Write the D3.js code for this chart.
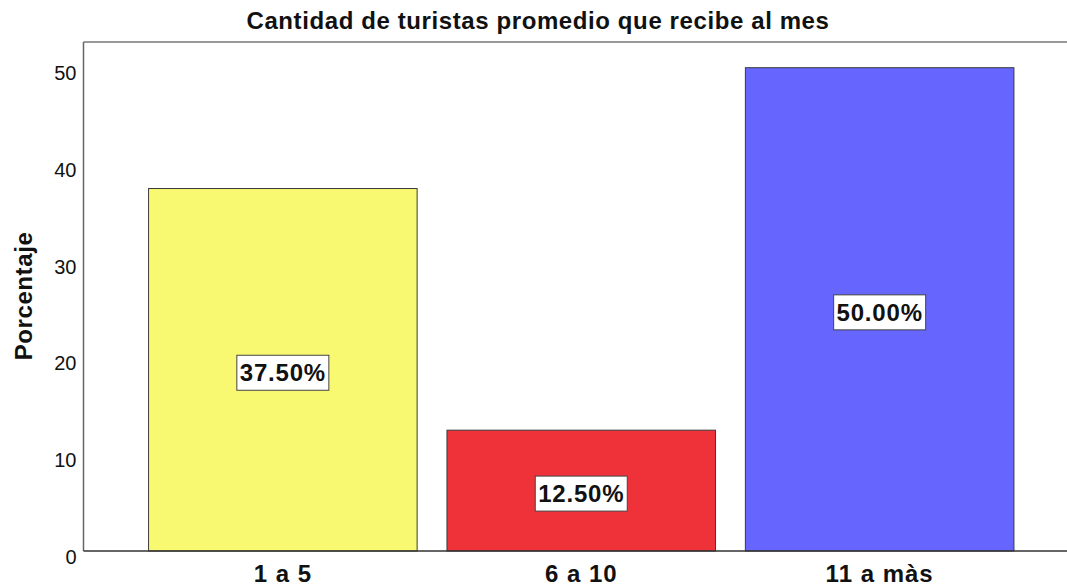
<!DOCTYPE html>
<html lang="es">
<head>
    <meta charset="UTF-8">
    <script src="https://d3js.org/d3.v7.min.js"></script>
    <title>Cantidad de turistas</title>
    <style>
        body { margin: 0; background: #fff; }
        text { font-family: "Liberation Sans", Arial, sans-serif; }
    </style>
</head>
<body>
    <script>
        // datos
        const categories = ['1 a 5', '6 a 10', '11 a màs'];
        const percents = [37.5, 12.5, 50.0];
        const barColors = ['#f9f871', '#ef323a', '#6666ff'];
        const yTicks = [0, 10, 20, 30, 40, 50];

        const width = 1067;
        const height = 586;
        const margin = {left: 83.5, top: 42, bottom: 551};

        const svg = d3.select('body').append('svg')
            .attr('width', width)
            .attr('height', height);

        const x = d3.scaleBand()
            .domain(categories)
            .range([margin.left, 1079])
            .paddingInner(0.1)
            .paddingOuter(0.218);

        const y = d3.scaleLinear()
            .domain([0, 50])
            .range([margin.bottom, 67.7]);

        // marco superior
        svg.append('line')
            .attr('x1', margin.left).attr('x2', width)
            .attr('y1', margin.top).attr('y2', margin.top)
            .attr('stroke', '#777').attr('stroke-width', 1.5);

        // barras
        svg.selectAll('rect.bar')
            .data(percents)
            .enter()
            .append('rect')
            .attr('class', 'bar')
            .attr('x', (d, i) => x(categories[i]))
            .attr('y', d => y(d))
            .attr('width', x.bandwidth())
            .attr('height', d => y(0) - y(d))
            .attr('fill', (d, i) => barColors[i])
            .attr('stroke', '#3a3a3a')
            .attr('stroke-width', 1);

        // eje y
        const yAxis = svg.append('g')
            .attr('transform', 'translate(' + margin.left + ',0)')
            .call(d3.axisLeft(y).tickValues(yTicks).tickSize(0).tickPadding(7));
        yAxis.select('.domain').attr('stroke', '#666').attr('stroke-width', 1.5)
            .attr('d', 'M0,' + margin.top + 'V' + margin.bottom);
        yAxis.selectAll('text')
            .attr('font-size', 20)
            .attr('font-family', '"Liberation Sans", Arial, sans-serif')
            .attr('fill', '#111')
            .attr('dy', '0.6em');

        // eje x
        const xAxis = svg.append('g')
            .attr('transform', 'translate(0,' + margin.bottom + ')')
            .call(d3.axisBottom(x).tickSize(0).tickPadding(14));
        xAxis.select('.domain').attr('stroke', '#333').attr('stroke-width', 1.5)
            .attr('d', 'M' + margin.left + ',0H' + width);
        xAxis.selectAll('text')
            .attr('font-size', 24)
            .attr('font-weight', 'bold')
            .attr('letter-spacing', 1)
            .attr('font-family', '"Liberation Sans", Arial, sans-serif')
            .attr('fill', '#111')
            .attr('dy', '0.71em');

        // etiquetas de valor
        const lab = svg.selectAll('g.lab')
            .data(percents)
            .enter()
            .append('g')
            .attr('class', 'lab')
            .attr('transform', (d, i) => 'translate(' + (x(categories[i]) + x.bandwidth() / 2) + ',' + (y(d / 2) + 3) + ')');
        lab.append('rect')
            .attr('x', -46).attr('y', -17.5)
            .attr('width', 92).attr('height', 35)
            .attr('fill', '#fff')
            .attr('stroke', '#444')
            .attr('stroke-width', 1);
        lab.append('text')
            .attr('text-anchor', 'middle')
            .attr('dy', '0.36em')
            .attr('font-size', 24)
            .attr('font-weight', 'bold')
            .attr('letter-spacing', 0.8)
            .attr('fill', '#111')
            .text(d => d.toFixed(2) + '%');

        // titulo
        svg.append('text')
            .attr('x', 538).attr('y', 29)
            .attr('text-anchor', 'middle')
            .attr('font-size', 24)
            .attr('font-weight', 'bold')
            .attr('letter-spacing', 0.6)
            .attr('fill', '#111')
            .text('Cantidad de turistas promedio que recibe al mes');

        // titulo eje y
        svg.append('text')
            .attr('transform', 'translate(32,296) rotate(-90)')
            .attr('text-anchor', 'middle')
            .attr('font-size', 24)
            .attr('font-weight', 'bold')
            .attr('letter-spacing', 0.6)
            .attr('fill', '#111')
            .text('Porcentaje');
    </script>
</body>
</html>
